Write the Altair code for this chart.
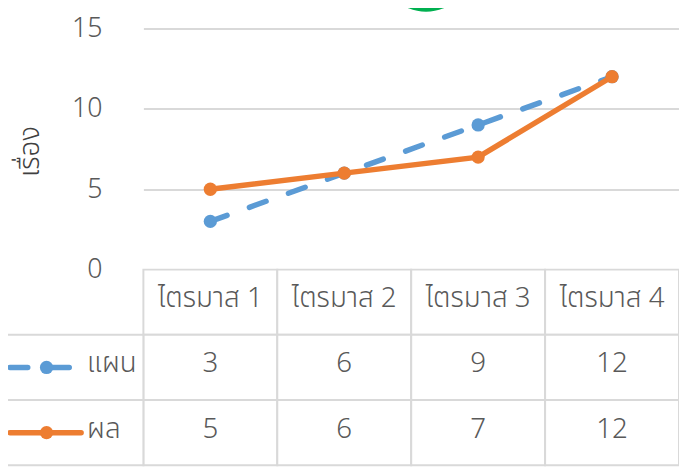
import altair as alt
import pandas as pd

# ---- data ----
quarters = ["ไตรมาส 1", "ไตรมาส 2", "ไตรมาส 3", "ไตรมาส 4"]
plan = [3, 6, 9, 12]
actual = [5, 6, 7, 12]
series = ["แผน", "ผล"]
y_ticks = [0, 5, 10, 15]
y_title = "เรื่อง"
rows = ["head", "แผน", "ผล"]

FONT = "Noto Sans Thai, Noto Sans, sans-serif"
BLUE = "#5B9BD5"
ORANGE = "#ED7D31"
GRID = "#D9D9D9"
TXT = "#595959"
FS = 28

df_plan = pd.DataFrame({"q": quarters, "v": plan})
df_act = pd.DataFrame({"q": quarters, "v": actual})

cells = []
for q in quarters:
    cells.append({"row": "head", "q": q, "t": q})
for q, v in zip(quarters, plan):
    cells.append({"row": "แผน", "q": q, "t": str(v)})
for q, v in zip(quarters, actual):
    cells.append({"row": "ผล", "q": q, "t": str(v)})
df_cells = pd.DataFrame(cells)
df_leg = pd.DataFrame({"row": series})

xq = alt.X("q:N", sort=quarters,
           scale=alt.Scale(domain=quarters, paddingInner=0, paddingOuter=0),
           axis=None)

y_axis = alt.Axis(values=y_ticks, grid=True, gridColor=GRID, gridWidth=2,
                  domain=False, ticks=False, tickSize=0, labelPadding=42,
                  labelFontSize=27, labelColor=TXT, labelFont=FONT,
                  labelFontWeight=300, labelBaseline="middle", labelOffset=0,
                  title=y_title, titleAngle=270, titleX=-114, titleY=124,
                  titleAlign="center", titleBaseline="middle",
                  titleFontSize=28, titleFontWeight=300,
                  titleColor="#404040", titleFont=FONT)
yv = alt.Y("v:Q", scale=alt.Scale(domain=[0, 15], nice=False), axis=y_axis)

plan_line = alt.Chart(df_plan).mark_line(
    color=BLUE, strokeWidth=5.5, strokeDash=[18, 24], strokeCap="round"
).encode(x=xq, y=yv)
plan_pts = alt.Chart(df_plan).mark_circle(color=BLUE, size=180, opacity=1).encode(
    x=xq, y=yv)
act_line = alt.Chart(df_act).mark_line(
    color=ORANGE, strokeWidth=5.5, strokeCap="round"
).encode(x=xq, y=yv)
act_pts = alt.Chart(df_act).mark_circle(color=ORANGE, size=180, opacity=1).encode(
    x=xq, y=yv)

# decorative green shape at the top
green = alt.Chart(pd.DataFrame({"k": [0]})).mark_circle(
    color="#00B050", size=8500, opacity=1
).encode(x=alt.value(286), y=alt.value(-63))

lines = alt.layer(plan_line, plan_pts, act_line, act_pts, green)

# ---- data table ----
rscale = alt.Scale(domain=rows, range=[244, 442], paddingInner=0, paddingOuter=0)
yr = alt.Y("row:N", sort=rows, scale=rscale, axis=None, bandPosition=0.5)
yr_rect = alt.Y("row:N", sort=rows, scale=rscale, axis=None)

cell_rects = alt.Chart(df_cells).mark_rect(
    fill="white", stroke=GRID, strokeWidth=2
).encode(x=xq, y=yr_rect)
leg_rects = alt.Chart(df_leg).mark_rect(
    fill="white", stroke=GRID, strokeWidth=2
).encode(x=alt.value(-142), x2=alt.value(0), y=yr_rect)
cell_text = alt.Chart(df_cells).mark_text(
    font=FONT, fontSize=FS, fontWeight=300, color=TXT, baseline="middle", dy=-3
).encode(x=xq, y=yr, text="t:N")

leg_plan = alt.Chart(df_leg).transform_filter(alt.datum.row == series[0])
leg_act = alt.Chart(df_leg).transform_filter(alt.datum.row == series[1])
leg_plan_line = leg_plan.mark_rule(color=BLUE, strokeWidth=5.5,
                                   strokeDash=[18, 24], strokeCap="round").encode(
    x=alt.value(-135), x2=alt.value(-70), y=yr)
leg_plan_pt = leg_plan.mark_circle(color=BLUE, size=180, opacity=1).encode(
    x=alt.value(-98), y=yr)
leg_act_line = leg_act.mark_rule(color=ORANGE, strokeWidth=5.5, strokeCap="round").encode(
    x=alt.value(-135), x2=alt.value(-63), y=yr)
leg_act_pt = leg_act.mark_circle(color=ORANGE, size=180, opacity=1).encode(
    x=alt.value(-98), y=yr)
leg_text = alt.Chart(df_leg).mark_text(
    font=FONT, fontSize=FS, fontWeight=300, color=TXT, align="left",
    baseline="middle", dy=-3
).encode(x=alt.value(-57), y=yr, text="row:N")

table = alt.layer(cell_rects, leg_rects, cell_text, leg_plan_line, leg_plan_pt,
                  leg_act_line, leg_act_pt, leg_text)

chart = alt.layer(lines, table).resolve_scale(y="independent").properties(
    width=542, height=244,
    background="white",
    autosize=alt.AutoSizeParams(type="none"),
    padding={"left": 137, "top": 18, "right": 0, "bottom": 198},
).configure_view(stroke=None)

chart.save("out.html", embed_options={"renderer": "svg", "actions": False})
